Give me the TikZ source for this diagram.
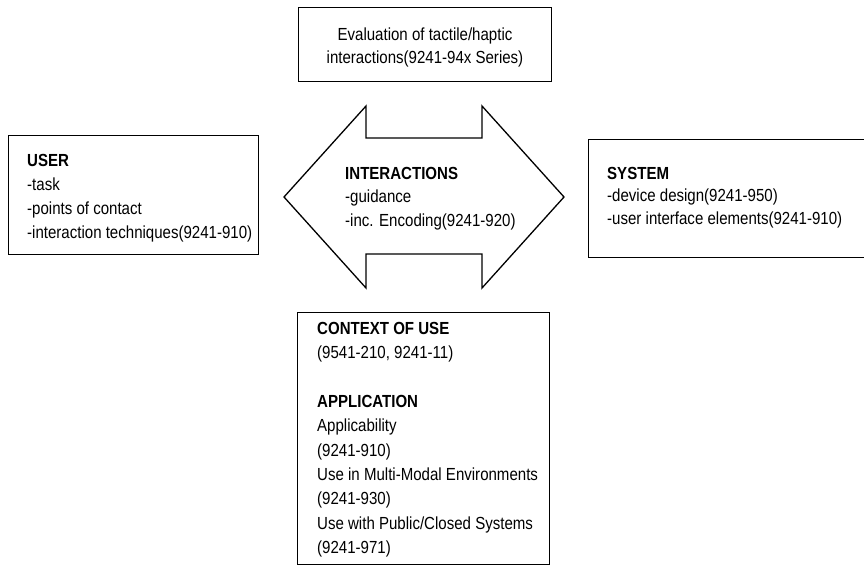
\documentclass[tikz,border=0pt]{standalone}
\usepackage{fontspec}
\setmainfont{Liberation Sans}[FakeStretch=0.86]
\begin{document}
\begin{tikzpicture}[x=1pt,y=-1pt,
  box/.style={draw, line width=1.3pt, anchor=north west, inner sep=0pt},
  txt/.style={anchor=base west, inner sep=0pt, font=\fontsize{17.5}{24}\selectfont},
  ctxt/.style={anchor=base, inner sep=0pt, font=\fontsize{17.5}{24}\selectfont}]
\useasboundingbox (0,0) rectangle (864,567);
% boxes
\node[box, minimum width=253pt, minimum height=74pt] (eval) at (298,7) {};
\node[box, minimum width=250pt, minimum height=119pt] (user) at (8,135) {};
\node[box, minimum width=290pt, minimum height=118pt] (system) at (588,139) {};
\node[box, minimum width=252pt, minimum height=252pt] (context) at (297,312) {};
% double arrow
\draw[line width=1.3pt, line join=miter] (284,197) -- (366,106) -- (366,138) -- (482,138) -- (482,106)
  -- (564,197) -- (482,288) -- (482,254) -- (366,254) -- (366,288) -- cycle;
% top box text
\node[ctxt] (e1) at (425,41) {Evaluation of tactile/haptic};
\node[ctxt] (e2) at (425,64) {interactions(9241-94x Series)};
% user
\node[txt] (u1) at (27,166) {\bfseries USER};
\node[txt] (u2) at (27,190) {-task};
\node[txt] (u3) at (27,214) {-points of contact};
\node[txt] (u4) at (27,238) {-interaction techniques(9241-910)};
% interactions
\node[txt] (i1) at (345,179) {\bfseries INTERACTIONS};
\node[txt] (i2) at (345,202.5) {-guidance};
\node[txt] (i3) at (345,226) {-inc. Encoding(9241-920)};
% system
\node[txt] (s1) at (607,179) {\bfseries SYSTEM};
\node[txt] (s2) at (607,201.5) {-device design(9241-950)};
\node[txt] (s3) at (607,224) {-user interface elements(9241-910)};
% context
\node[txt] (c1) at (317,334) {\bfseries CONTEXT OF USE};
\node[txt] (c2) at (317,358.4) {(9541-210, 9241-11)};
\node[txt] (c3) at (317,407.2) {\bfseries APPLICATION};
\node[txt] (c4) at (317,431.6) {Applicability};
\node[txt] (c5) at (317,456) {(9241-910)};
\node[txt] (c6) at (317,480.4) {Use in Multi-Modal Environments};
\node[txt] (c7) at (317,504.8) {(9241-930)};
\node[txt] (c8) at (317,529.2) {Use with Public/Closed Systems};
\node[txt] (c9) at (317,553.6) {(9241-971)};
\end{tikzpicture}
\end{document}
